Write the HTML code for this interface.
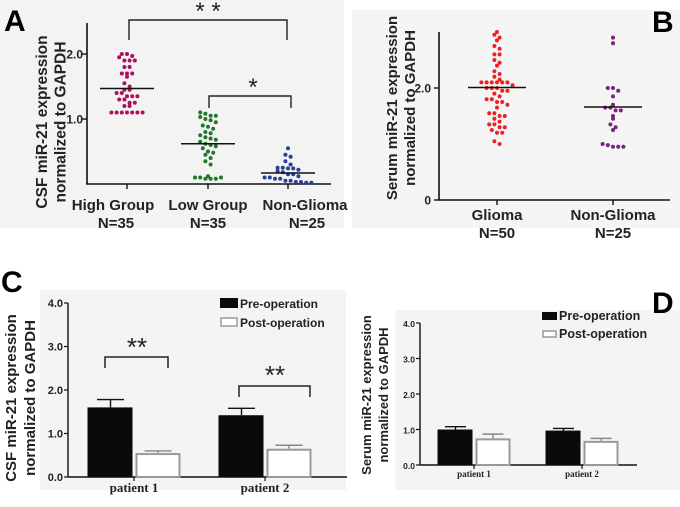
<!DOCTYPE html>
<html><head><meta charset="utf-8"><style>
html,body{margin:0;padding:0;background:#fff}
svg{display:block;font-family:"Liberation Sans",sans-serif}
.b{font-weight:bold}
</style></head><body>
<svg id="fig" width="680" height="507" viewBox="0 0 680 507">
<rect x="0" y="0" width="344" height="228" fill="#f3f3f3"/>
<rect x="352" y="10" width="328" height="218" fill="#f5f5f5"/>
<rect x="40" y="290" width="306" height="200" fill="#f4f4f4"/>
<rect x="395" y="310" width="285" height="180" fill="#f4f4f4"/>
<g id="gA"></g>
<g id="gB"></g>
<g id="gC"></g>
<g id="gD"></g>
</svg>
<script>
// Panel A data
const aCategories = ["High Group", "Low Group", "Non-Glioma"];
const aCounts = ["N=35", "N=35", "N=25"];
const aHigh = [2.0,2.0,1.97,1.95,1.9,1.9,1.9,1.8,1.8,1.7,1.7,1.7,1.65,1.55,1.5,1.45,1.45,1.4,1.4,1.35,1.35,1.35,1.3,1.3,1.25,1.25,1.2,1.2,1.1,1.1,1.1,1.1,1.1,1.1,1.1];
const aLow = [1.1,1.08,1.05,1.05,1.03,1.0,0.98,0.95,0.9,0.88,0.85,0.8,0.78,0.75,0.72,0.7,0.68,0.65,0.62,0.6,0.58,0.55,0.5,0.48,0.45,0.4,0.35,0.3,0.12,0.1,0.1,0.08,0.08,0.08,0.1];
const aNon = [0.55,0.45,0.42,0.35,0.3,0.25,0.25,0.24,0.24,0.22,0.2,0.18,0.15,0.15,0.12,0.1,0.1,0.08,0.08,0.05,0.05,0.03,0.03,0.02,0.02];
const aMeans = [1.47, 0.62, 0.17];
const aTicks = [1.0, 2.0];
// Panel B data
const bCategories = ["Glioma", "Non-Glioma"];
const bCounts = ["N=50", "N=25"];
const bGlioma = [3.0,2.95,2.9,2.85,2.75,2.7,2.6,2.6,2.5,2.45,2.4,2.3,2.25,2.2,2.15,2.1,2.1,2.1,2.1,2.1,2.1,2.05,2.0,2.0,2.0,1.95,1.95,1.9,1.85,1.8,1.8,1.75,1.75,1.7,1.65,1.55,1.55,1.5,1.5,1.45,1.4,1.35,1.35,1.3,1.3,1.25,1.2,1.2,1.05,1.0];
const bNon = [2.9,2.8,2.0,2.0,1.95,1.85,1.7,1.65,1.65,1.6,1.6,1.5,1.45,1.35,1.3,1.25,1.0,0.98,0.95,0.95,0.95];
const bMeans = [2.01, 1.66];
const bTicks = [0, 2.0];
// Panel C data
const cPatients = ["patient 1", "patient 2"];
const cPre = [1.6, 1.42];
const cPreErr = [0.18, 0.16];
const cPost = [0.55, 0.65];
const cPostErr = [0.05, 0.08];
const cTicks = [0.0, 1.0, 2.0, 3.0, 4.0];
// Panel D data
const dPatients = ["patient 1", "patient 2"];
const dPre = [1.0, 0.97];
const dPreErr = [0.08, 0.06];
const dPost = [0.75, 0.68];
const dPostErr = [0.12, 0.07];
const dTicks = [0.0, 1.0, 2.0, 3.0, 4.0];

const NS = "http://www.w3.org/2000/svg";
function mk(parent, tag, attrs, text) {
  const el = document.createElementNS(NS, tag);
  for (const k in attrs) el.setAttribute(k, attrs[k]);
  if (text !== undefined) el.textContent = text;
  parent.appendChild(el);
  return el;
}
function line(p, x1, y1, x2, y2, w, c) {
  return mk(p, "line", {x1, y1, x2, y2, stroke: c || "#111", "stroke-width": w || 1.5});
}
function swarm(p, vals, cx, y, color, name) {
  const bins = {};
  vals.forEach(v => {
    const k = Math.round(y(v) / 6);
    (bins[k] = bins[k] || []).push(v);
  });
  Object.keys(bins).forEach(k => {
    const arr = bins[k];
    arr.forEach((v, i) => {
      const off = (i - (arr.length - 1) / 2) * 5.2;
      const c = mk(p, "circle", {cx: cx + off, cy: y(v), r: 2, fill: color});
      
      
    });
  });
}

// ---- Panel A ----
(function () {
  const g = document.getElementById("gA");
  const y = v => 184 - v * 65;
  const xs = [127, 208, 288];
  const lx = [113, 208, 305];
  const nx = [116, 208, 307];
  let t = mk(g, "text", {x: 4, y: 31, "font-size": 30, class: "b"}, "A");
  
  
  line(g, 87, 23, 87, 184, 1.6);
  line(g, 86, 184, 331, 184, 1.6);
  aTicks.forEach(v => {
    line(g, 82, y(v), 87, y(v), 1.4);
    const tl = mk(g, "text", {x: 83, y: y(v) + 4.5, "font-size": 12, "text-anchor": "end", class: "b", fill: "#222"}, v.toFixed(1));
    
    
  });
  xs.forEach((x, i) => {
    line(g, x, 184, x, 189, 1.4);
    const l1 = mk(g, "text", {x: lx[i], y: 210, "font-size": 15, "text-anchor": "middle", class: "b", fill: "#222"}, aCategories[i]);
    
    
    const l2 = mk(g, "text", {x: nx[i], y: 228, "font-size": 15, "text-anchor": "middle", class: "b", fill: "#222"}, aCounts[i]);
    
    
  });
  const yt = mk(g, "text", {transform: "translate(47,122) rotate(-90)", "font-size": 15.5, "text-anchor": "middle", class: "b", fill: "#222"});
  
  
  mk(yt, "tspan", {x: 0, dy: 0}, "CSF miR-21 expression");
  mk(yt, "tspan", {x: 0, dy: 18.5}, "normalized to GAPDH");
  swarm(g, aHigh, xs[0], y, "#b0105a", "high-group-point");
  swarm(g, aLow, xs[1], y, "#1e7a2a", "low-group-point");
  swarm(g, aNon, xs[2], y, "#283e99", "non-glioma-point");
  aMeans.forEach((m, i) => {
    const ml = line(g, xs[i] - 27, y(m), xs[i] + 27, y(m), 1.5);
    
    
  });
  mk(g, "polyline", {points: "129,40 129,20 287,20 287,40", fill: "none", stroke: "#222", "stroke-width": 1.4});
  const s1 = mk(g, "text", {x: 208, y: 19, "font-size": 24, "text-anchor": "middle", fill: "#222"}, "* *");
  
  
  mk(g, "polyline", {points: "209,108 209,96 291,96 291,108", fill: "none", stroke: "#222", "stroke-width": 1.4});
  const s2 = mk(g, "text", {x: 253, y: 95, "font-size": 24, "text-anchor": "middle", fill: "#222"}, "*");
  
  
})();

// ---- Panel B ----
(function () {
  const g = document.getElementById("gB");
  const y = v => 200 - v * 56;
  const xs = [497, 613];
  const t = mk(g, "text", {x: 652, y: 32, "font-size": 30, class: "b"}, "B");
  
  
  line(g, 439, 32, 439, 200, 1.6);
  line(g, 438, 200, 670, 200, 1.6);
  bTicks.forEach(v => {
    line(g, 434, y(v), 439, y(v), 1.4);
    const tl = mk(g, "text", {x: 431, y: y(v) + 4.5, "font-size": 12, "text-anchor": "end", class: "b", fill: "#222"}, v === 0 ? "0" : v.toFixed(1));
    
    
  });
  xs.forEach((x, i) => {
    line(g, x, 200, x, 205, 1.4);
    const l1 = mk(g, "text", {x: x, y: 220, "font-size": 15, "text-anchor": "middle", class: "b", fill: "#222"}, bCategories[i]);
    
    
    const l2 = mk(g, "text", {x: x, y: 238, "font-size": 15, "text-anchor": "middle", class: "b", fill: "#222"}, bCounts[i]);
    
    
  });
  const yt = mk(g, "text", {transform: "translate(397,108) rotate(-90)", "font-size": 15, "text-anchor": "middle", class: "b", fill: "#222"});
  
  
  mk(yt, "tspan", {x: 0, dy: 0}, "Serum miR-21 expression");
  mk(yt, "tspan", {x: 0, dy: 18}, "normalized to GAPDH");
  swarm(g, bGlioma, xs[0], y, "#ee2020", "glioma-point");
  swarm(g, bNon, xs[1], y, "#7a2280", "non-glioma-point");
  bMeans.forEach((m, i) => {
    const ml = line(g, xs[i] - 29, y(m), xs[i] + 29, y(m), 1.5);
    
    
  });
})();

// ---- Bar panels ----
function barPanel(g, cfg) {
  const y = v => cfg.y0 - v * cfg.scale;
  line(g, cfg.ax, y(4), cfg.ax, cfg.y0, 1.4);
  line(g, cfg.ax, cfg.y0, cfg.axEnd, cfg.y0, 1.6);
  cfg.ticks.forEach(v => {
    line(g, cfg.ax - 4, y(v), cfg.ax, y(v), 1.2);
    const tl = mk(g, "text", {x: cfg.ax - 5, y: y(v) + 4, "font-size": cfg.tickFs, "text-anchor": "end", class: "b", fill: "#222"}, v.toFixed(1));
    
    
  });
  cfg.patients.forEach((p, i) => {
    const cx = cfg.centers[i], bw = cfg.bw;
    const ex = cx - bw/2 - 1;
    line(g, ex, y(cfg.pre[i]), ex, y(cfg.pre[i] + cfg.preErr[i]), 1.4);
    line(g, ex - bw*0.3, y(cfg.pre[i] + cfg.preErr[i]), ex + bw*0.3, y(cfg.pre[i] + cfg.preErr[i]), 1.4);
    const r1 = mk(g, "rect", {x: cx - bw - 1.5, y: y(cfg.pre[i]), width: bw, height: cfg.pre[i] * cfg.scale, fill: "#0a0a0a"});
    
    
    const px = cx + bw/2 + 1.5;
    line(g, px, y(cfg.post[i]), px, y(cfg.post[i] + cfg.postErr[i]), 1.4, "#888");
    line(g, px - bw*0.3, y(cfg.post[i] + cfg.postErr[i]), px + bw*0.3, y(cfg.post[i] + cfg.postErr[i]), 1.4, "#888");
    const r2 = mk(g, "rect", {x: cx + 2.5, y: y(cfg.post[i]) + 1, width: bw - 2, height: cfg.post[i] * cfg.scale - 1, fill: "#fff", stroke: "#999", "stroke-width": 2});
    
    
    line(g, cx, cfg.y0, cx, cfg.y0 + 4, 1.2);
    const xl = mk(g, "text", {x: cx, y: cfg.y0 + cfg.labOff, "font-size": cfg.labFs, "text-anchor": "middle", "font-family": "Liberation Serif, serif", "font-weight": "bold", fill: "#222"}, p);
    
    
  });
  const L = cfg.leg;
  const lr1 = mk(g, "rect", {x: L.x, y: L.y, width: L.w, height: L.h, fill: "#0a0a0a"});
  
  
  const lt1 = mk(g, "text", {x: L.x + L.w + 2, y: L.y + L.h, "font-size": L.fs, class: "b", fill: "#222"}, "Pre-operation");
  
  
  const lr2 = mk(g, "rect", {x: L.x + 1, y: L.y + L.gap + 1, width: L.w - 2, height: L.h - 2, fill: "#fff", stroke: "#999", "stroke-width": 1.5});
  
  
  const lt2 = mk(g, "text", {x: L.x + L.w + 2, y: L.y + L.gap + L.h, "font-size": L.fs, class: "b", fill: "#222"}, "Post-operation");
  
  
  const yt = mk(g, "text", {transform: `translate(${cfg.titleX},${cfg.titleY}) rotate(-90)`, "font-size": cfg.titleFs, "text-anchor": "middle", class: "b", fill: "#222"});
  
  
  mk(yt, "tspan", {x: 0, dy: 0}, cfg.title1);
  mk(yt, "tspan", {x: 0, dy: cfg.titleFs + 4}, "normalized to GAPDH");
}

(function () {
  const g = document.getElementById("gC");
  const t = mk(g, "text", {x: 1, y: 292, "font-size": 30, class: "b"}, "C");
  
  
  barPanel(g, {y0: 477, scale: 43.5, ax: 68, axEnd: 347, ticks: cTicks, tickFs: 11,
    patients: cPatients, centers: [134, 265], bw: 45, pre: cPre, preErr: cPreErr, post: cPost, postErr: cPostErr,
    labOff: 15, labFs: 13, leg: {x: 220, y: 298, w: 18, h: 10, gap: 19, fs: 12},
    titleX: 16, titleY: 398, titleFs: 15, title1: "CSF miR-21 expression"});
  mk(g, "polyline", {points: "105,368 105,357 168,357 168,368", fill: "none", stroke: "#222", "stroke-width": 1.5});
  const s1 = mk(g, "text", {x: 137, y: 356, "font-size": 26, "text-anchor": "middle", fill: "#222"}, "**");
  
  
  mk(g, "polyline", {points: "239,397 239,386 310,386 310,397", fill: "none", stroke: "#222", "stroke-width": 1.5});
  const s2 = mk(g, "text", {x: 275, y: 384, "font-size": 26, "text-anchor": "middle", fill: "#222"}, "**");
  
  
})();

(function () {
  const g = document.getElementById("gD");
  const t = mk(g, "text", {x: 652, y: 313, "font-size": 30, class: "b"}, "D");
  
  
  barPanel(g, {y0: 465, scale: 35.5, ax: 420, axEnd: 637, ticks: dTicks, tickFs: 8.5,
    patients: dPatients, centers: [474, 582], bw: 35, pre: dPre, preErr: dPreErr, post: dPost, postErr: dPostErr,
    labOff: 12, labFs: 9, leg: {x: 542, y: 312, w: 15, h: 8, gap: 18, fs: 12.5},
    titleX: 371, titleY: 395, titleFs: 13, title1: "Serum miR-21 expression"});
})();
</script>
</body></html>
